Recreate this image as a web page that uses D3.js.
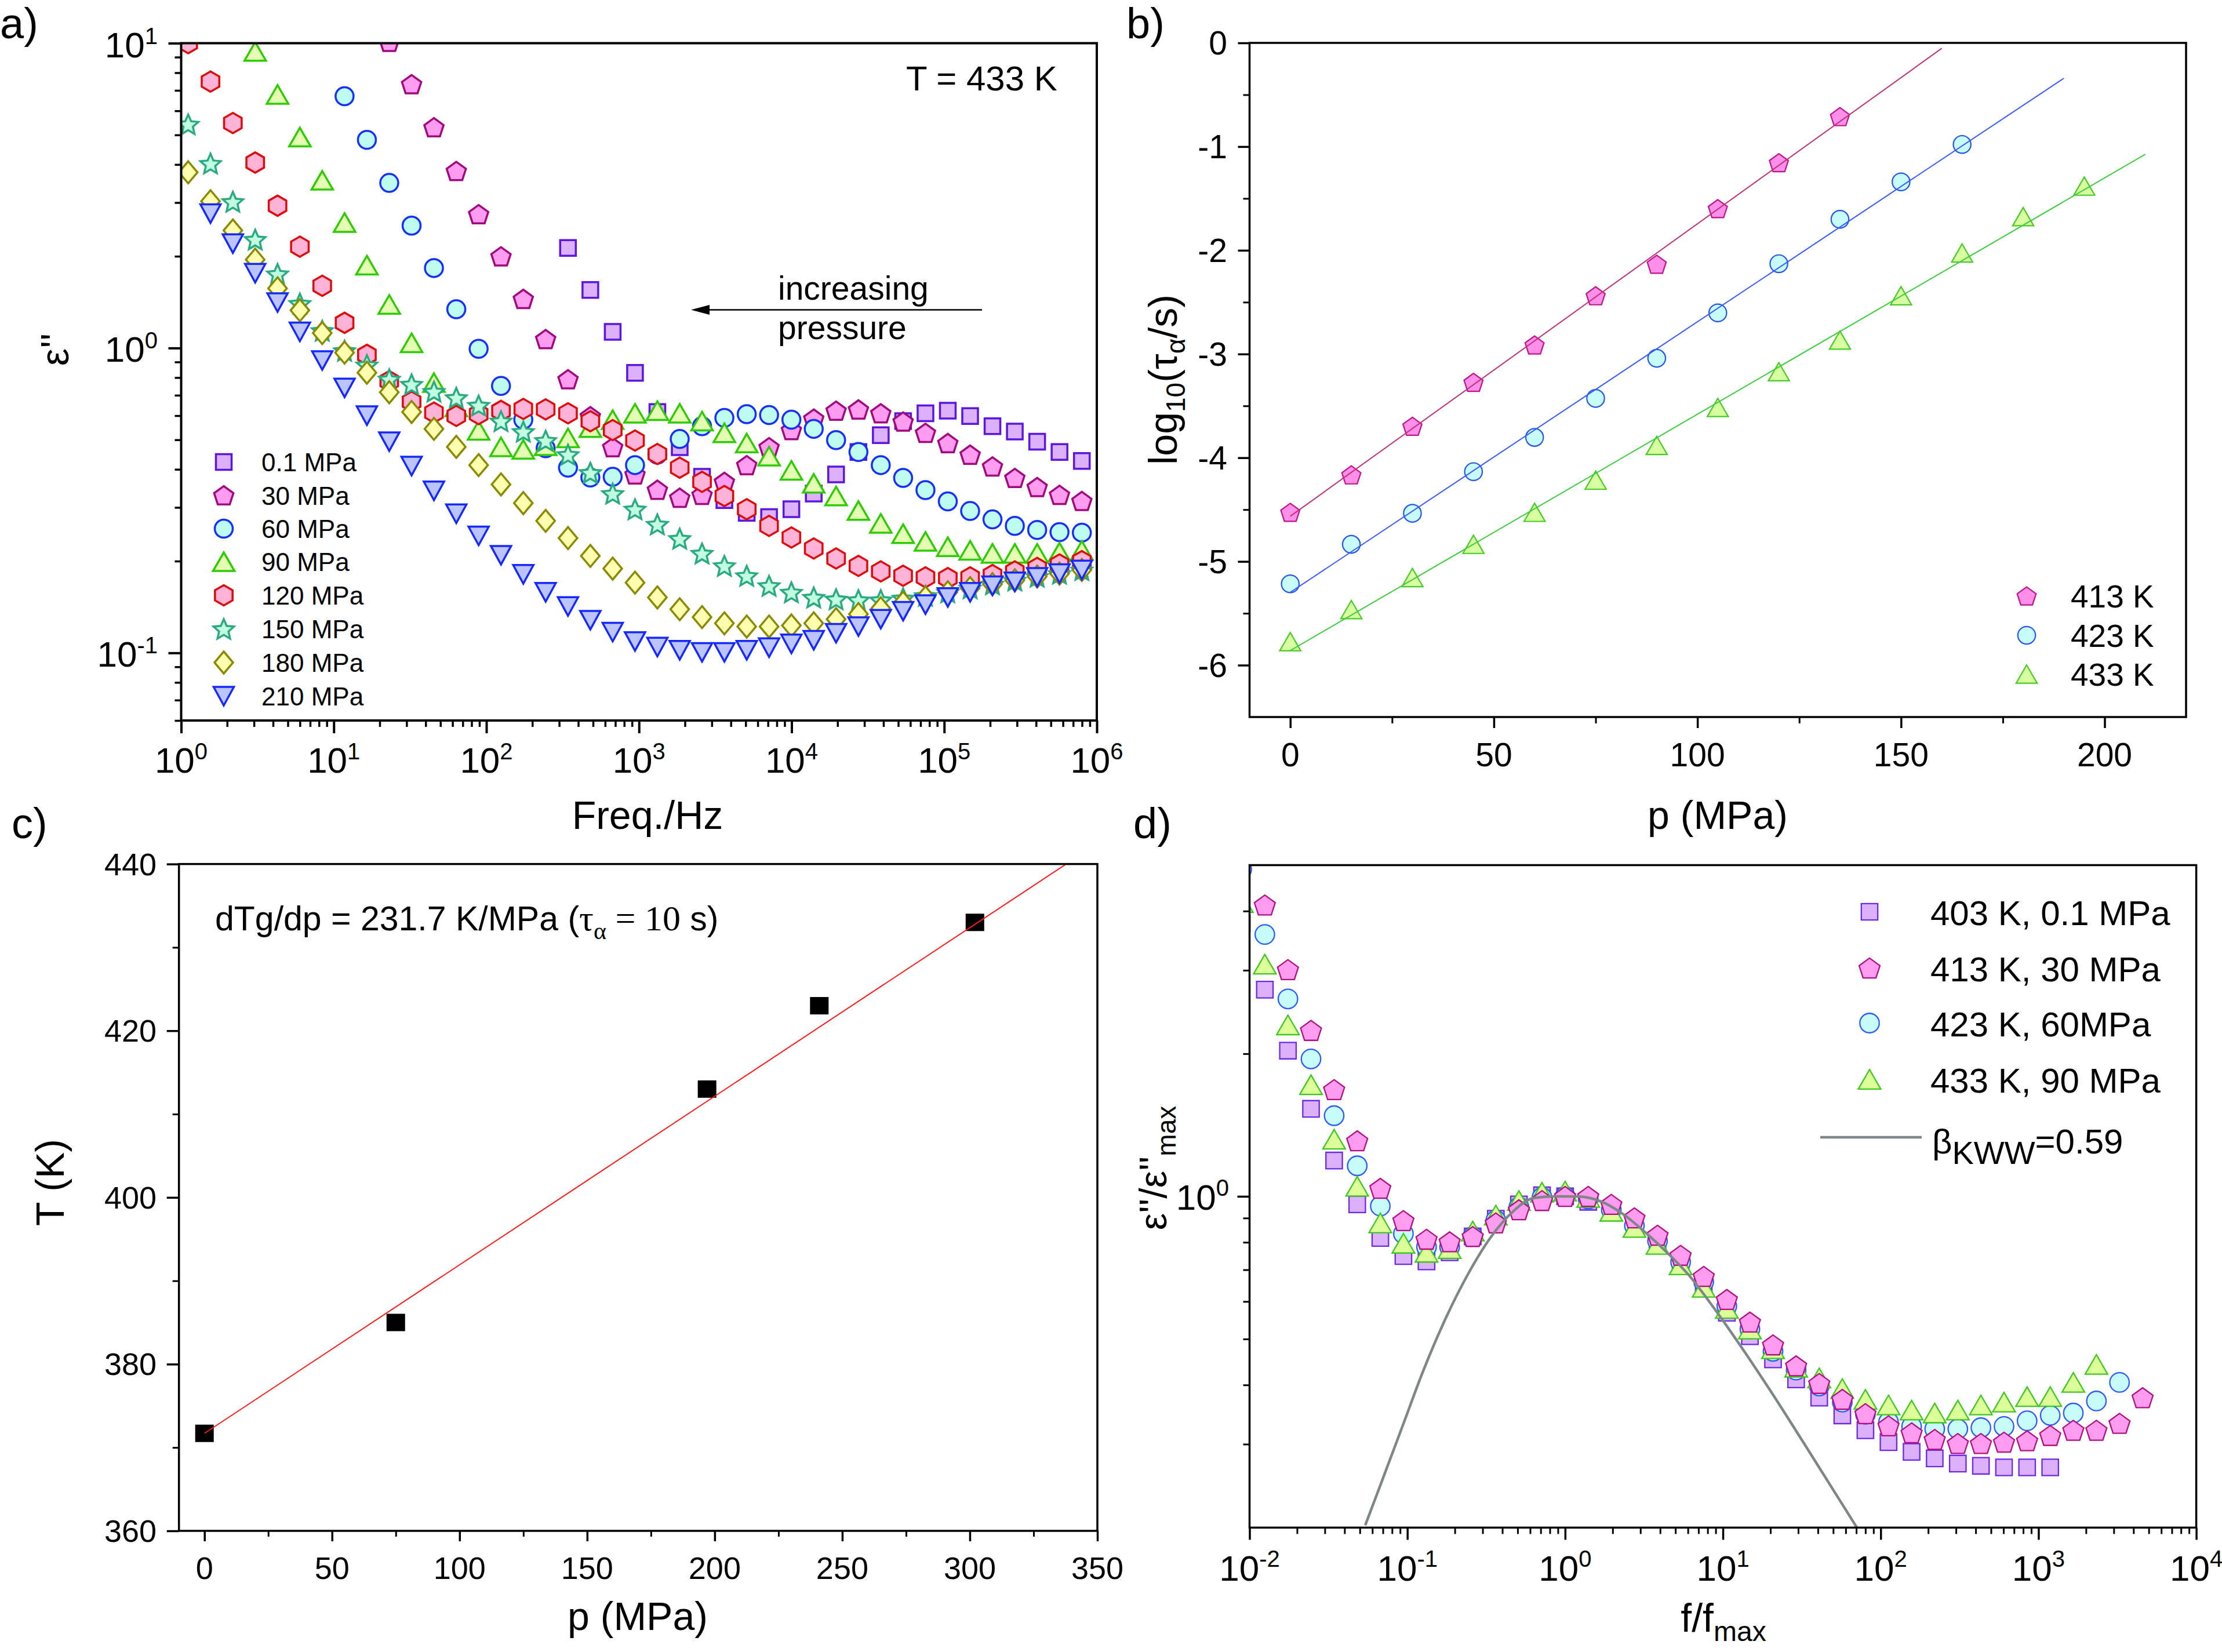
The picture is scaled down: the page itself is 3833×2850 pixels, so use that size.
<!DOCTYPE html>
<html><head><meta charset="utf-8">
<script src="https://cdn.jsdelivr.net/npm/d3@7"></script>
<style>body{margin:0;background:#fff}svg{display:block}</style>
</head><body>
<script>
// ================= DATA =================
// Panel a: dielectric loss at T = 433 K, common frequency grid (Hz)
const freqA = [1.112,1.557,2.182,3.056,4.281,5.998,8.403,11.77,16.49,23.10,32.36,45.34,63.52,88.98,124.7,174.6,244.6,342.7,480.1,672.6,941.9,1320,1849,2590,3628,5082,7120,9972,13970,19570,27420,38410,53810,75390,105600,147900,207200,290300,406700,569700,798000];
const pressureLabelsA = ["0.1 MPa","30 MPa","60 MPa","90 MPa","120 MPa","150 MPa","180 MPa","210 MPa"];
const startIndexA = [17, 9, 7, 3, 0, 0, 0, 1];
const eps_0p1MPa = [2.13,1.55,1.13,0.829,0.617,0.473,0.378,0.317,0.288,0.279,0.296,0.333,0.385,0.456,0.518,0.576,0.611,0.623,0.598,0.554,0.532,0.493,0.456,0.426];
const eps_30MPa = [10.1,7.34,5.3,3.81,2.75,2.0,1.45,1.07,0.79,0.598,0.473,0.385,0.343,0.323,0.33,0.364,0.413,0.473,0.538,0.587,0.623,0.629,0.611,0.574,0.527,0.488,0.447,0.409,0.375,0.35,0.33,0.315];
const eps_60MPa = [6.7,4.82,3.48,2.52,1.83,1.34,0.994,0.751,0.582,0.469,0.405,0.376,0.378,0.413,0.447,0.503,0.554,0.59,0.607,0.603,0.582,0.543,0.499,0.456,0.413,0.375,0.342,0.314,0.292,0.274,0.261,0.253,0.249,0.248];
const eps_90MPa = [9.4,6.79,4.92,3.55,2.58,1.87,1.39,1.04,0.77,0.641,0.537,0.474,0.465,0.478,0.507,0.548,0.582,0.611,0.623,0.611,0.576,0.527,0.488,0.442,0.397,0.36,0.327,0.293,0.266,0.246,0.232,0.223,0.217,0.212,0.212,0.212,0.214,0.217];
const eps_120MPa = [10.0,7.48,5.47,4.06,2.93,2.15,1.60,1.21,0.95,0.779,0.667,0.614,0.599,0.607,0.622,0.631,0.629,0.611,0.575,0.538,0.497,0.449,0.405,0.364,0.327,0.296,0.261,0.239,0.22,0.204,0.193,0.185,0.179,0.177,0.176,0.177,0.18,0.185,0.19,0.195,0.2];
const eps_150MPa = [5.42,4.03,3.02,2.27,1.75,1.40,1.14,0.98,0.88,0.79,0.76,0.72,0.687,0.648,0.576,0.532,0.497,0.447,0.39,0.333,0.296,0.264,0.237,0.212,0.193,0.179,0.166,0.158,0.152,0.15,0.149,0.149,0.151,0.154,0.158,0.163,0.168,0.173,0.178,0.182,0.187];
const eps_180MPa = [3.77,3.03,2.43,1.95,1.57,1.33,1.12,0.966,0.83,0.716,0.617,0.543,0.474,0.413,0.357,0.31,0.271,0.238,0.208,0.189,0.17,0.152,0.139,0.131,0.125,0.122,0.122,0.123,0.125,0.129,0.134,0.14,0.146,0.152,0.158,0.163,0.168,0.173,0.178,0.182,0.187];
const eps_210MPa = [2.76,2.2,1.76,1.41,1.13,0.91,0.74,0.6,0.493,0.41,0.34,0.286,0.242,0.209,0.181,0.158,0.142,0.128,0.117,0.109,0.1045,0.102,0.1004,0.1004,0.102,0.104,0.107,0.11,0.116,0.122,0.129,0.137,0.144,0.152,0.158,0.166,0.171,0.177,0.182,0.187];
const ticksA_x = [1,10,100,1000,10000,100000,1000000];
const tickExpA_x = ["0","1","2","3","4","5","6"];
const ticksA_y = [0.1,1,10];
const tickExpA_y = ["-1","0","1"];

// Panel b: log10(tau_alpha) vs pressure
const pB = [0,15,30,45,60,75,90,105,120,135,150,165,180,195];
const tau413K = [-4.526,-4.165,-3.696,-3.273,-2.912,-2.438,-2.134,-1.598,-1.155,-0.711];
const tau423K = [-5.216,-4.835,-4.536,-4.134,-3.804,-3.428,-3.041,-2.603,-2.129,-1.701,-1.340,-0.979];
const tau433K = [-5.773,-5.464,-5.155,-4.835,-4.526,-4.216,-3.881,-3.515,-3.170,-2.866,-2.438,-2.026,-1.675,-1.381];
const labelsB = ["413 K","423 K","433 K"];
const fitEndB = [160,190,210];
const ticksB_x = [0,50,100,150,200];
const ticksB_y = [-6,-5,-4,-3,-2,-1,0];

// Panel c: Tg vs pressure
const pC = [0,75,197,241,302];
const TgC = [371.7,385.0,413.0,423.0,433.0];
const fitC_intercept = 371.7;
const fitC_slope = 0.2022;
const ticksC_x = [0,50,100,150,200,250,300,350];
const ticksC_y = [360,380,400,420,440];

// Panel d: normalized spectra, common normalized frequency grid
const fNormD = [0.008923,0.0125,0.01751,0.02452,0.03436,0.04813,0.06742,0.09445,0.1323,0.1854,0.2597,0.3637,0.5096,0.7138,1,1.401,1.962,2.749,3.851,5.395,7.558,10.59,14.83,20.78,29.11,40.78,57.12,80.02,112.1,157.0,220.0,308.2,431.7,604.8,847.2,1187,1663,2329,3263,4571];
const labelsD = ["403 K, 0.1 MPa","413 K, 30 MPa","423 K, 60MPa","433 K, 90 MPa"];
const startIndexD = [0, 1, 0, 0];
const norm403K = [3.76,2.73,2.03,1.53,1.19,0.962,0.817,0.748,0.729,0.762,0.823,0.897,0.962,1.005,1.0,0.974,0.925,0.86,0.796,0.714,0.647,0.568,0.507,0.453,0.411,0.376,0.345,0.321,0.303,0.289,0.28,0.273,0.27,0.268,0.268,0.268];
const norm413K = [4.12,3.01,2.24,1.68,1.31,1.04,0.889,0.812,0.802,0.823,0.879,0.937,0.98,1.0,1.0,0.962,0.901,0.828,0.751,0.678,0.606,0.543,0.486,0.439,0.403,0.373,0.348,0.328,0.317,0.307,0.301,0.301,0.303,0.305,0.313,0.321,0.321,0.332,0.376];
const norm423K = [4.9,3.57,2.61,1.95,1.48,1.16,0.954,0.834,0.782,0.782,0.823,0.89,0.95,0.995,1.0,0.987,0.937,0.867,0.806,0.727,0.66,0.587,0.525,0.471,0.43,0.398,0.368,0.347,0.334,0.327,0.323,0.323,0.325,0.327,0.336,0.345,0.349,0.37,0.405];
const norm433K = [4.17,3.09,2.3,1.72,1.32,1.05,0.879,0.796,0.762,0.776,0.845,0.913,0.98,1.02,1.026,0.995,0.93,0.86,0.792,0.717,0.643,0.58,0.525,0.477,0.436,0.414,0.393,0.373,0.363,0.354,0.349,0.354,0.363,0.368,0.378,0.378,0.405,0.442];
// KWW curve (beta = 0.59)
const kwwX = [0.0541,0.0665,0.092,0.1272,0.1758,0.2428,0.3357,0.4642,0.6412,0.887,1.0,1.2262,1.694,2.342,3.236,4.4735,6.184,8.295,12.59,19.95,31.62,50.12,70.7];
const kwwY = [0.2023,0.2427,0.3236,0.4315,0.5546,0.686,0.8176,0.9271,0.9931,1.0,1.0,0.999,0.975,0.9162,0.8384,0.7586,0.6776,0.5963,0.490,0.3894,0.3063,0.240,0.2000];
const ticksD_x = [0.01,0.1,1,10,100,1000,10000];
const tickExpD_x = ["-2","-1","0","1","2","3","4"];

// ================= DRAWING =================
const FONT = "'Liberation Sans', Arial, Helvetica, sans-serif";
const SERIF = "'Liberation Serif', 'Times New Roman', serif";
const W = 3833, H = 2850;
const svg = d3.select("body").append("svg").attr("width", W).attr("height", H)
  .attr("font-family", FONT);
svg.append("rect").attr("width", W).attr("height", H).attr("fill", "#fff");
const defs = svg.append("defs");
function clipRect(id, x0, y0, x1, y1) {
  defs.append("clipPath").attr("id", id).append("rect")
    .attr("x", x0).attr("y", y0).attr("width", x1 - x0).attr("height", y1 - y0);
  return `url(#${id})`;
}

function sym(type, k) {
  k = k || 1;
  const P = pts => "M" + pts.map(p => (p[0] * k).toFixed(2) + "," + (p[1] * k).toFixed(2)).join("L") + "Z";
  const reg = (n, r, dy) => d3.range(n).map(i => {
    const a = (-90 + 360 * i / n) * Math.PI / 180;
    return [r * Math.cos(a), r * Math.sin(a) + (dy || 0)];
  });
  switch (type) {
    case "square": return P([[-13.5, -13.5], [13.5, -13.5], [13.5, 13.5], [-13.5, 13.5]]);
    case "circle": { const r = 15.5 * k; return `M${r},0A${r},${r},0,1,1,${-r},0A${r},${r},0,1,1,${r},0Z`; }
    case "pentagon": return P(reg(5, 17.5, 1.7));
    case "triUp": return P([[0, -16], [18.5, 16], [-18.5, 16]]);
    case "triDown": return P([[0, 16], [17.5, -16], [-17.5, -16]]);
    case "hexagon": return P(reg(6, 17.5, 0));
    case "star": return P(d3.range(10).map(i => {
      const r = i % 2 ? 8.5 : 18.5; const a = (-90 + 36 * i) * Math.PI / 180;
      return [r * Math.cos(a), r * Math.sin(a) + 1.7];
    }));
    case "diamond": return P([[0, -19], [16, 0], [0, 19], [-16, 0]]);
  }
}

function markers(g, pts, type, k, fill, stroke, sw) {
  g.selectAll(null).data(pts).enter().append("path")
    .attr("d", sym(type, k))
    .attr("transform", d => `translate(${d[0]},${d[1]})`)
    .attr("fill", fill).attr("stroke", stroke).attr("stroke-width", sw)
    .attr("stroke-linejoin", "miter");
}

function axisTicks(g, axisFn, scale, values, size, sw, tx, ty) {
  const a = axisFn(scale).tickValues(values).tickSize(size).tickFormat("");
  const s = g.append("g").attr("transform", `translate(${tx},${ty})`).call(a);
  s.select(".domain").remove();
  s.selectAll("text").remove();
  s.selectAll("line").attr("stroke", "#000").attr("stroke-width", sw);
}

function frame(g, x0, y0, x1, y1, sw) {
  g.append("rect").attr("x", x0).attr("y", y0).attr("width", x1 - x0).attr("height", y1 - y0)
    .attr("fill", "none").attr("stroke", "#000").attr("stroke-width", sw);
}

function powLabel(g, x, y, exp, fs, anchor, supDy, supFs) {
  const t = g.append("text").attr("x", x).attr("y", y).attr("text-anchor", anchor)
    .attr("font-size", fs).attr("fill", "#000");
  t.append("tspan").text("10");
  t.append("tspan").attr("dy", -supDy).attr("font-size", supFs).text(exp);
}

function plainLabel(g, x, y, txt, fs, anchor) {
  g.append("text").attr("x", x).attr("y", y).attr("text-anchor", anchor)
    .attr("font-size", fs).attr("fill", "#000").text(txt);
}

function minorLog(lo, hi) {
  const out = [];
  for (let d = lo; d < hi; d *= 10) for (let m = 2; m <= 9; m++) out.push(d * m);
  return out;
}

// Panel labels
[["a)", 0, 66], ["b)", 1943, 66], ["c)", 20, 1446], ["d)", 1955, 1446]].forEach(p =>
  svg.append("text").attr("x", p[1]).attr("y", p[2]).attr("font-size", 74).text(p[0]));

// ---------- Panel a ----------
{
  const g = svg.append("g");
  const X0 = 312.5, X1 = 1892, Y0 = 74.5, Y1 = 1243;
  const x = d3.scaleLog().domain([1, 1e6]).range([X0, X1]);
  const y = d3.scaleLog().domain([0.06, 10]).range([Y1, Y0]);
  const clip = clipRect("clipA", X0, Y0, X1, Y1);
  const styles = [
    ["square", "#dcb0fa", "#5b16e0"], ["pentagon", "#ff9cf0", "#a2087e"], ["circle", "#bffcf0", "#1530ff"],
    ["triUp", "#e4ffb4", "#2ccc00"], ["hexagon", "#ffb3d6", "#e00a0a"], ["star", "#c0ffe0", "#2aaa80"],
    ["diamond", "#ffffb0", "#8a8a00"], ["triDown", "#bcc4ff", "#1428ff"]];
  const series = [eps_0p1MPa, eps_30MPa, eps_60MPa, eps_90MPa, eps_120MPa, eps_150MPa, eps_180MPa, eps_210MPa];
  const pg = g.append("g").attr("clip-path", clip);
  series.forEach((vals, si) => {
    const pts = vals.map((v, i) => [x(freqA[startIndexA[si] + i]), y(v)]);
    markers(pg, pts, styles[si][0], 1, styles[si][1], styles[si][2], 3.5);
  });
  frame(g, X0, Y0, X1, Y1, 4);
  axisTicks(g, d3.axisBottom, x, ticksA_x, 22, 4, 0, Y1);
  axisTicks(g, d3.axisBottom, x, minorLog(1, 1e6), 11, 3.5, 0, Y1);
  axisTicks(g, d3.axisLeft, y, ticksA_y, 22, 4, X0, 0);
  axisTicks(g, d3.axisLeft, y, minorLog(0.01, 10).filter(v => v >= 0.06 && v <= 10), 11, 3.5, X0, 0);
  ticksA_x.forEach((v, i) => powLabel(g, x(v), 1333, tickExpA_x[i], 62, "middle", 23, 40));
  ticksA_y.forEach((v, i) => powLabel(g, 272, y(v) + 24, tickExpA_y[i], 62, "end", 23, 40));
  plainLabel(g, 1117, 1430, "Freq./Hz", 68, "middle");
  g.append("text").attr("transform", "translate(118,603) rotate(-90)").attr("text-anchor", "middle")
    .attr("font-size", 68).text("ε''");
  plainLabel(g, 1563, 156, "T = 433 K", 60, "start");
  plainLabel(g, 1342, 517, "increasing", 57, "start");
  plainLabel(g, 1342, 585, "pressure", 57, "start");
  g.append("line").attr("x1", 1215).attr("x2", 1694).attr("y1", 534.5).attr("y2", 534.5)
    .attr("stroke", "#000").attr("stroke-width", 2.5);
  g.append("path").attr("d", "M1192,534.5L1224,526L1224,543Z").attr("fill", "#000");
  // legend
  const legY = [797, 854.5, 912, 969, 1027, 1085, 1143, 1201];
  pressureLabelsA.forEach((lab, i) => {
    markers(g, [[386, legY[i]]], styles[i][0], 1, styles[i][1], styles[i][2], 3.5);
    plainLabel(g, 451, legY[i] + 16, lab, 44, "start");
  });
}

// ---------- Panel b ----------
{
  const g = svg.append("g");
  const X0 = 2155.5, X1 = 3771, Y0 = 74, Y1 = 1237;
  const x = d3.scaleLinear().domain([-10, 220]).range([X0, X1]);
  const y = d3.scaleLinear().domain([-6.5, 0]).range([Y1, Y0]);
  const clip = clipRect("clipB", X0, Y0, X1, Y1);
  const styles = [["pentagon", "#ff8fe8", "#c0108a", "#c2307a"], ["circle", "#c8fcf8", "#2255ee", "#3a5cff"], ["triUp", "#d8ffa0", "#44cc22", "#3ccc3c"]];
  const series = [tau413K, tau423K, tau433K];
  const pg = g.append("g").attr("clip-path", clip);
  series.forEach((vals, si) => {
    const pts = vals.map((v, i) => [x(pB[i]), y(v)]);
    markers(pg, pts, styles[si][0], 0.98, styles[si][1], styles[si][2], 2.2);
  });
  series.forEach((vals, si) => {
    const xs = pB.slice(0, vals.length);
    const mx = d3.mean(xs), my = d3.mean(vals);
    let sxy = 0, sxx = 0;
    xs.forEach((p, i) => { sxy += (p - mx) * (vals[i] - my); sxx += (p - mx) * (p - mx); });
    const b = sxy / sxx, a = my - b * mx;
    pg.append("path").attr("d", d3.line()([[x(0), y(a)], [x(fitEndB[si]), y(a + b * fitEndB[si])]]))
      .attr("stroke", styles[si][3]).attr("stroke-width", 2).attr("fill", "none");
  });
  frame(g, X0, Y0, X1, Y1, 3.5);
  axisTicks(g, d3.axisBottom, x, ticksB_x, 19, 3.5, 0, Y1);
  axisTicks(g, d3.axisBottom, x, [25, 75, 125, 175], 11, 3, 0, Y1);
  axisTicks(g, d3.axisLeft, y, ticksB_y, 20, 3.5, X0, 0);
  axisTicks(g, d3.axisLeft, y, [-0.5, -1.5, -2.5, -3.5, -4.5, -5.5], 11, 3, X0, 0);
  ticksB_x.forEach(v => plainLabel(g, x(v), 1322, String(v), 57, "middle"));
  ticksB_y.forEach(v => plainLabel(g, 2117, y(v) + 20, v === 0 ? "0" : "-" + Math.abs(v), 57, "end"));
  plainLabel(g, 2963, 1430, "p (MPa)", 68, "middle");
  const t = g.append("text").attr("transform", "translate(2030,655) rotate(-90)").attr("text-anchor", "middle").attr("font-size", 68);
  t.append("tspan").text("log");
  t.append("tspan").attr("dy", 14).attr("font-size", 46).text("10");
  t.append("tspan").attr("dy", -14).text("(τ");
  t.append("tspan").attr("dy", 14).attr("font-size", 46).text("α");
  t.append("tspan").attr("dy", -14).text("/s)");
  const legY = [1028, 1096, 1163];
  labelsB.forEach((lab, i) => {
    markers(g, [[3496, legY[i]]], styles[i][0], 0.98, styles[i][1], styles[i][2], 2.2);
    plainLabel(g, 3572, legY[i] + 20, lab, 55, "start");
  });
}

// ---------- Panel c ----------
{
  const g = svg.append("g");
  const X0 = 308.7, X1 = 1893, Y0 = 1490.6, Y1 = 2641;
  const x = d3.scaleLinear().domain([-10, 350]).range([X0, X1]);
  const y = d3.scaleLinear().domain([360, 440]).range([Y1, Y0]);
  const clip = clipRect("clipC", X0, Y0, X1, Y1);
  const pg = g.append("g").attr("clip-path", clip);
  pg.selectAll(null).data(pC).enter().append("rect")
    .attr("x", (d) => x(d) - 16).attr("y", (d, i) => y(TgC[i]) - 15)
    .attr("width", 32).attr("height", 30).attr("fill", "#000");
  pg.append("path").attr("d", d3.line()([[x(0), y(fitC_intercept)], [x(350), y(fitC_intercept + fitC_slope * 350)]]))
    .attr("stroke", "#ff1a1a").attr("stroke-width", 2).attr("fill", "none");
  frame(g, X0, Y0, X1, Y1, 3.5);
  axisTicks(g, d3.axisBottom, x, ticksC_x, 18, 3.5, 0, Y1);
  axisTicks(g, d3.axisBottom, x, [25, 75, 125, 175, 225, 275, 325], 10, 3, 0, Y1);
  axisTicks(g, d3.axisLeft, y, ticksC_y, 21, 3.5, X0, 0);
  axisTicks(g, d3.axisLeft, y, [370, 390, 410, 430], 11, 3, X0, 0);
  ticksC_x.forEach(v => plainLabel(g, x(v), 2724, String(v), 54, "middle"));
  ticksC_y.forEach(v => plainLabel(g, 270, y(v) + 19, String(v), 54, "end"));
  plainLabel(g, 1100, 2812, "p (MPa)", 68, "middle");
  g.append("text").attr("transform", "translate(110,2040) rotate(-90)").attr("text-anchor", "middle")
    .attr("font-size", 68).text("T (K)");
  const t = g.append("text").attr("x", 371).attr("y", 1605).attr("font-size", 59);
  t.append("tspan").text("dTg/dp = 231.7 K/MPa (");
  t.append("tspan").attr("font-family", SERIF).attr("font-size", 62).text("τ");
  t.append("tspan").attr("font-family", SERIF).attr("font-size", 42).attr("dy", 15).text("α");
  t.append("tspan").attr("font-family", SERIF).attr("font-size", 62).attr("dy", -15).text(" = 10");
  t.append("tspan").text(" s)");
}

// ---------- Panel d ----------
{
  const g = svg.append("g");
  const X0 = 2155.5, X1 = 3788.6, Y0 = 1492.5, Y1 = 2635.4;
  const x = d3.scaleLog().domain([0.01, 1e4]).range([X0, X1]);
  const y = d3.scaleLog().domain([0.2, 5]).range([Y1, Y0]);
  const clip = clipRect("clipD", X0, Y0, X1, Y1);
  const styles = [["square", "#dcb0fa", "#6a2ae8"], ["pentagon", "#ff9cf0", "#b0107f"], ["circle", "#c8fcf8", "#2a5cff"], ["triUp", "#ddff99", "#3cc81e"]];
  const series = [norm403K, norm413K, norm423K, norm433K];
  const order = [0, 2, 3, 1];
  const pg = g.append("g").attr("clip-path", clip);
  const kScale = [1.05, 1.08, 1.08, 1.05];
  order.forEach(si => {
    const vals = series[si];
    const pts = vals.map((v, i) => [x(fNormD[startIndexD[si] + i]), y(v)]);
    markers(pg, pts, styles[si][0], kScale[si], styles[si][1], styles[si][2], 2.3);
  });
  pg.append("path").attr("d", d3.line().curve(d3.curveMonotoneX)(kwwX.map((v, i) => [x(v), y(kwwY[i])])))
    .attr("stroke", "#7d8787").attr("stroke-width", 4.5).attr("fill", "none");
  frame(g, X0, Y0, X1, Y1, 3.5);
  axisTicks(g, d3.axisBottom, x, ticksD_x, 21, 3.5, 0, Y1);
  axisTicks(g, d3.axisBottom, x, minorLog(0.01, 1e4), 11, 3, 0, Y1);
  axisTicks(g, d3.axisLeft, y, [1], 21, 3.5, X0, 0);
  axisTicks(g, d3.axisLeft, y, [0.3, 0.4, 0.5, 0.6, 0.7, 0.8, 0.9, 2, 3, 4], 11, 3, X0, 0);
  ticksD_x.forEach((v, i) => powLabel(g, x(v), 2727, tickExpD_x[i], 62, "middle", 24, 40));
  powLabel(g, 2120, y(1) + 23, "0", 62, "end", 24, 40);
  const tx = g.append("text").attr("x", 2973).attr("y", 2815).attr("text-anchor", "middle").attr("font-size", 68);
  tx.append("tspan").text("f/f");
  tx.append("tspan").attr("dy", 16).attr("font-size", 48).text("max");
  const ty = g.append("text").attr("transform", "translate(2012,2015) rotate(-90)").attr("text-anchor", "middle").attr("font-size", 66);
  ty.append("tspan").text("ε''/ε''");
  ty.append("tspan").attr("dy", 16).attr("font-size", 46).text("max");
  const legY = [1573, 1670, 1765, 1862];
  labelsD.forEach((lab, i) => {
    markers(g, [[3225, legY[i]]], styles[i][0], kScale[i], styles[i][1], styles[i][2], 2.3);
    plainLabel(g, 3330, legY[i] + 23, lab, 60, "start");
  });
  g.append("line").attr("x1", 3140).attr("x2", 3315).attr("y1", 1962).attr("y2", 1962)
    .attr("stroke", "#7d8787").attr("stroke-width", 4.5);
  const tb = g.append("text").attr("x", 3333).attr("y", 1990).attr("font-size", 60);
  tb.append("tspan").text("β");
  tb.append("tspan").attr("dy", 18).attr("font-size", 56).text("KWW");
  tb.append("tspan").attr("dy", -18).text("=0.59");
}
</script>
</body></html>
